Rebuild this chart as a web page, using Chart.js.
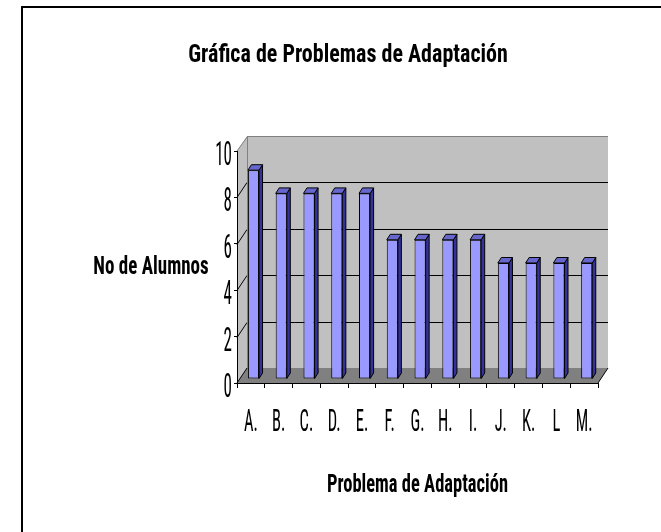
<!DOCTYPE html>
<html>
<head>
<meta charset="utf-8">
<title>Gráfica de Problemas de Adaptación</title>
<script src="https://cdn.jsdelivr.net/npm/chart.js@4.4.1/dist/chart.umd.min.js"></script>
<style>
  html, body { margin: 0; padding: 0; background: #fff; overflow: hidden; }
  #wrap { position: relative; width: 661px; height: 532px; }
  #frame { position: absolute; left: 21px; top: 6px; right: -20px; bottom: -20px;
           border-left: 2px solid #000; border-top: 2px solid #000; }
  canvas { position: absolute; left: 0; top: 0; }
</style>
</head>
<body>
<div id="wrap">
  <div id="frame"></div>
  <canvas id="chart" width="661" height="532"></canvas>
</div>
<script>
// data
const categories = ['A.', 'B.', 'C.', 'D.', 'E.', 'F.', 'G.', 'H.', 'I.', 'J.', 'K.', 'L', 'M.'];
const alumnos = [9, 8, 8, 8, 8, 6, 6, 6, 6, 5, 5, 5, 5];
const yTicks = [0, 2, 4, 6, 8, 10];

const chartTitle = 'Gráfica de Problemas de Adaptación';
const yTitle = 'No de Alumnos';
const xTitle = 'Problema de Adaptación';

const FONT = "'Roboto Condensed', 'Liberation Sans Narrow', 'Arial Narrow', sans-serif";

// 3d look: back wall offset, bar placement inside the box and bar depth
const wall = { dx: 10, dy: -15 };
const barFront = { dx: 2.6, dy: -4 };
const barDepth = { dx: 3.5, dy: -5.5 };

const poly = (ctx, pts, fill, stroke) => {
    ctx.beginPath();
    ctx.moveTo(pts[0][0], pts[0][1]);
    pts.slice(1).forEach(p => ctx.lineTo(p[0], p[1]));
    ctx.closePath();
    if (fill) { ctx.fillStyle = fill; ctx.fill(); }
    if (stroke) { ctx.strokeStyle = stroke; ctx.lineWidth = 1; ctx.stroke(); }
};

const line = (ctx, pts, color) => {
    ctx.beginPath();
    ctx.moveTo(pts[0][0], pts[0][1]);
    pts.slice(1).forEach(p => ctx.lineTo(p[0], p[1]));
    ctx.strokeStyle = color;
    ctx.lineWidth = 1;
    ctx.stroke();
};

// the old excel picture has tall, squeezed lettering: stretch the text vertically
const tallText = (ctx, text, x, y, size, bold, stretch, align) => {
    ctx.save();
    ctx.translate(x, y);
    ctx.scale(1, stretch);
    ctx.font = `${bold ? 'bold ' : ''}${size}px ${FONT}`;
    ctx.textAlign = align || 'center';
    ctx.textBaseline = 'alphabetic';
    ctx.fillStyle = '#000';
    ctx.fillText(text, 0, 0);
    ctx.restore();
};

const box3d = {
    id: 'box3d',
    beforeDraw(chart) {
        const { ctx, chartArea: a, scales: { y } } = chart;
        const L = a.left, R = a.right, T = a.top, B = a.bottom;
        const dx = wall.dx, dy = wall.dy;
        ctx.save();
        // side wall, back wall, floor
        poly(ctx, [[L, T], [L + dx, T + dy], [L + dx, B + dy], [L, B]], '#c0c0c0');
        poly(ctx, [[L + dx, T + dy], [R + dx, T + dy], [R + dx, B + dy], [L + dx, B + dy]], '#c0c0c0');
        poly(ctx, [[L, B], [L + dx, B + dy], [R + dx, B + dy], [R, B]], '#808080');
        // gridlines on side and back wall
        yTicks.slice(1, -1).forEach(v => {
            const py = Math.round(y.getPixelForValue(v)) + 0.5;
            line(ctx, [[L, py], [L + dx, py + dy], [R + dx, py + dy]], '#000');
        });
        line(ctx, [[L, B], [L + dx, B + dy]], '#000');
        // wall edges
        line(ctx, [[L, T], [L + dx + 0.5, T + dy + 0.5], [R + dx, T + dy + 0.5]], '#808080');
        line(ctx, [[L + dx + 0.5, T + dy], [L + dx + 0.5, B + dy]], '#808080');
        line(ctx, [[R, B], [R + dx, B + dy]], '#000');
        ctx.restore();
    },
    beforeDatasetsDraw(chart) {
        chart.ctx.save();
        chart.ctx.translate(barFront.dx, barFront.dy);
    },
    afterDatasetsDraw(chart) {
        const ctx = chart.ctx;
        ctx.restore();
        ctx.save();
        chart.getDatasetMeta(0).data.forEach(bar => {
            const { x, y, base, width } = bar.getProps(['x', 'y', 'base', 'width'], true);
            const l = x - width / 2 + barFront.dx, r = x + width / 2 + barFront.dx;
            const t = y + barFront.dy, b = base + barFront.dy;
            const ddx = barDepth.dx, ddy = barDepth.dy;
            poly(ctx, [[r, t], [r + ddx, t + ddy], [r + ddx, b + ddy], [r, b]], '#333399', '#000');
            poly(ctx, [[l, t], [l + ddx, t + ddy], [r + ddx, t + ddy], [r, t]], '#6666cc', '#000');
        });
        ctx.restore();
    },
    afterDraw(chart) {
        const { ctx, scales: { x, y } } = chart;
        // tick labels, placed with the scales
        x.ticks.forEach((t, i) => {
            tallText(ctx, x.getLabelForValue(t.value), x.getPixelForTick(i), 431, 16.5, false, 1.95);
        });
        y.ticks.forEach((t, i) => {
            tallText(ctx, t.label, 232, y.getPixelForTick(i) + 14, 17, false, 2.0, 'right');
        });
        // titles
        tallText(ctx, chartTitle, 348, 61.5, 22, true, 1.13);
        tallText(ctx, yTitle, 151, 274, 19, true, 1.31);
        tallText(ctx, xTitle, (x.left + x.right) / 2, 491.5, 18.5, true, 1.42);
    }
};

const ctx = document.getElementById('chart').getContext('2d');

const problemChart = new Chart(ctx, {
    type: 'bar',
    data: {
        labels: categories,
        datasets: [{
            label: 'No de Alumnos',
            data: alumnos,
            backgroundColor: '#9999ff',
            borderColor: '#000',
            borderWidth: 1,
            borderSkipped: false,
            barPercentage: 0.4,
            categoryPercentage: 1.0
        }]
    },
    options: {
        responsive: false,
        animation: false,
        layout: {
            padding: { top: 151, right: 63, left: 0, bottom: 0 }
        },
        scales: {
            y: {
                min: 0,
                max: 10,
                ticks: { stepSize: 2, display: false },
                grid: { drawOnChartArea: false, tickLength: 3, color: '#000' },
                border: { color: '#000', width: 1 },
                afterFit: scale => { scale.width = 237; }
            },
            x: {
                ticks: { display: false, autoSkip: false },
                grid: { drawOnChartArea: false, tickLength: 5, color: '#000' },
                border: { color: '#000', width: 1 },
                afterFit: scale => { scale.height = 532 - 383; }
            }
        },
        plugins: {
            legend: { display: false },
            tooltip: { enabled: false }
        }
    },
    plugins: [box3d]
});
</script>
</body>
</html>
